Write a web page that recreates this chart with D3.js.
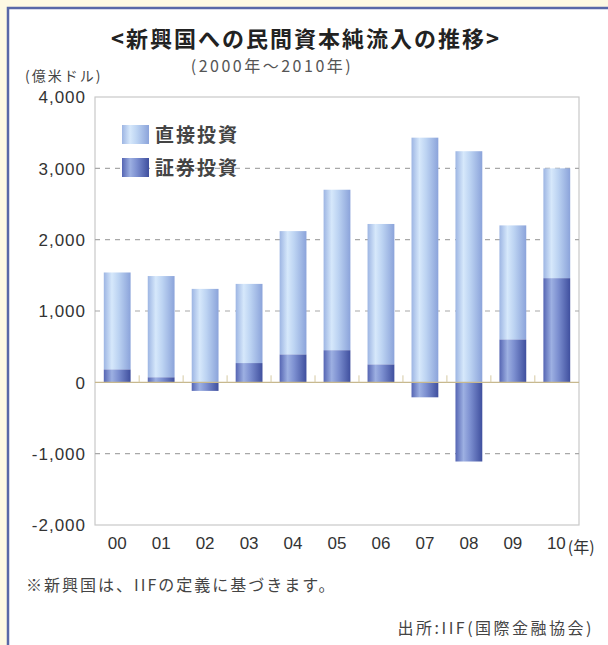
<!DOCTYPE html>
<html><head><meta charset="utf-8">
<script src="https://cdn.jsdelivr.net/npm/d3@7"></script>
<style>
html,body{margin:0;padding:0;background:#fdf9e3;}
svg{display:block;font-family:"Noto Sans CJK JP","Noto Sans",sans-serif;}
</style></head>
<body>
<script>
const years = ["00","01","02","03","04","05","06","07","08","09","10"];
const directInv = [1360,1420,1310,1110,1730,2250,1970,3430,3240,1600,1540];
const portfolioInv = [180,70,-120,270,390,450,250,-210,-1110,600,1460];
const yTicks = [-2000,-1000,0,1000,2000,3000,4000];
const seriesNames = ["直接投資","証券投資"];

const W = 608, H = 645;
const svg = d3.select("body").append("svg").attr("width", W).attr("height", H);
const latin = "'Liberation Sans',Arial,sans-serif";
const cjk = "'Noto Sans CJK JP','Noto Sans',sans-serif";

const defs = svg.append("defs");
function grad(id, stops){
  const g = defs.append("linearGradient").attr("id", id).attr("x1","0").attr("x2","1").attr("y1","0").attr("y2","0");
  stops.forEach(s => g.append("stop").attr("offset", s[0]).attr("stop-color", s[1]));
}
grad("gLight", [[0,"#9db5e3"],[0.3,"#d6e8fb"],[0.55,"#bcd3f2"],[1,"#8ba3da"]]);
grad("gDark", [[0,"#5565b3"],[0.3,"#9db0e2"],[0.55,"#7c8fd0"],[1,"#3f4f9e"]]);

// frame
svg.append("rect").attr("x",8).attr("y",8).attr("width",W).attr("height",H)
  .attr("fill","#ffffff").attr("stroke","#5868a8").attr("stroke-width",2.5);

const x0 = 95, x1 = 579, yTop = 97, yBot = 525;
const x = d3.scaleBand().domain(years).range([x0, x1]).paddingInner(0.39).paddingOuter(0.2);
const y = d3.scaleLinear().domain([-2000, 4000]).range([yBot, yTop]);

// plot border
svg.append("rect").attr("x",x0).attr("y",yTop).attr("width",x1-x0).attr("height",yBot-yTop)
  .attr("fill","#fff").attr("stroke","#c9c9c9").attr("stroke-width",1.2);

// gridlines
svg.append("g").selectAll("line").data(yTicks.filter(t => t!==0 && t!==4000 && t!==-2000)).join("line")
  .attr("x1",x0).attr("x2",x1).attr("y1",d=>y(d)).attr("y2",d=>y(d))
  .attr("stroke","#a8a8a8").attr("stroke-width",1.2).attr("stroke-dasharray","5,5");

// y-axis labels
const yAxis = d3.axisLeft(y).tickValues(yTicks).tickSize(0).tickPadding(9)
  .tickFormat(d => d3.format(",")(d).replace("\u2212","-"));
const ya = svg.append("g").attr("transform",`translate(${x0},0)`).call(yAxis);
ya.select(".domain").remove();
ya.selectAll("text").attr("dy","0.35em")
  .style("font-family", latin).style("font-size","17px").style("letter-spacing","1px").style("fill","#333");

// bars
const bw = x.bandwidth();
const g = svg.append("g");
years.forEach((yr,i) => {
  const d = directInv[i], p = portfolioInv[i];
  const base = p > 0 ? p : 0;
  g.append("rect").attr("x", x(yr)).attr("width", bw)
    .attr("y", y(base + d)).attr("height", y(base) - y(base + d)).attr("fill","url(#gLight)");
  g.append("rect").attr("x", x(yr)).attr("width", bw)
    .attr("y", y(Math.max(p,0))).attr("height", Math.abs(y(p) - y(0))).attr("fill","url(#gDark)");
});

// zero line with ticks
svg.append("line").attr("x1",x0).attr("x2",x1).attr("y1",y(0)).attr("y2",y(0))
  .attr("stroke","#c7b88e").attr("stroke-width",1.2);
const step = x.step();
svg.append("g").selectAll("line").data(years.slice(1)).join("line")
  .attr("x1",d=>x(d)-(step-bw)/2).attr("x2",d=>x(d)-(step-bw)/2)
  .attr("y1",y(0)).attr("y2",y(0)-7).attr("stroke","#d6caa4").attr("stroke-width",1);

// x-axis labels
const xa = svg.append("g").attr("transform",`translate(0,${yBot})`)
  .call(d3.axisBottom(x).tickSize(0).tickPadding(12));
xa.select(".domain").remove();
xa.selectAll("text")
  .style("font-family", latin).style("font-size","17px").style("fill","#333");
xa.selectAll(".tick").filter(d => d === "10").select("text")
  .attr("text-anchor","end").attr("x", 9);
svg.append("text").attr("x", x("10")+bw/2+11).attr("y", yBot+28)
  .style("font-family", cjk).style("font-size","16px").style("fill","#333")
  .text("(年)");

// legend
const legend = svg.append("g");
["gLight","gDark"].forEach((gid,i) => {
  legend.append("rect").attr("x",122).attr("y",125+i*33).attr("width",27).attr("height",19).attr("fill",`url(#${gid})`);
  legend.append("text").attr("x",155).attr("y",142+i*33)
    .style("font-family", cjk).style("font-size","19px").style("font-weight","bold")
    .style("letter-spacing","2px").style("fill","#444").text(seriesNames[i]);
});

// titles
svg.append("text").attr("x",306).attr("y",47).attr("text-anchor","middle")
  .style("font-family", cjk).style("font-size","22px").style("font-weight","bold")
  .style("letter-spacing","2px").style("fill","#222").text("<新興国への民間資本純流入の推移>");
svg.append("text").attr("x",272).attr("y",72).attr("text-anchor","middle")
  .style("font-family", cjk).style("font-size","16px").style("letter-spacing","2.5px")
  .style("fill","#555").text("(2000年〜2010年)");
svg.append("text").attr("x",25).attr("y",81)
  .style("font-family", cjk).style("font-size","14px").style("letter-spacing","2px")
  .style("fill","#444").text("(億米ドル)");

// notes
svg.append("text").attr("x",26).attr("y",591)
  .style("font-family", cjk).style("font-size","16px").style("letter-spacing","2px")
  .style("fill","#444").text("※新興国は、IIFの定義に基づきます。");
svg.append("text").attr("x",594).attr("y",634).attr("text-anchor","end")
  .style("font-family", cjk).style("font-size","16px").style("letter-spacing","2.5px")
  .style("fill","#444").text("出所:IIF(国際金融協会)");
</script>
</body></html>
